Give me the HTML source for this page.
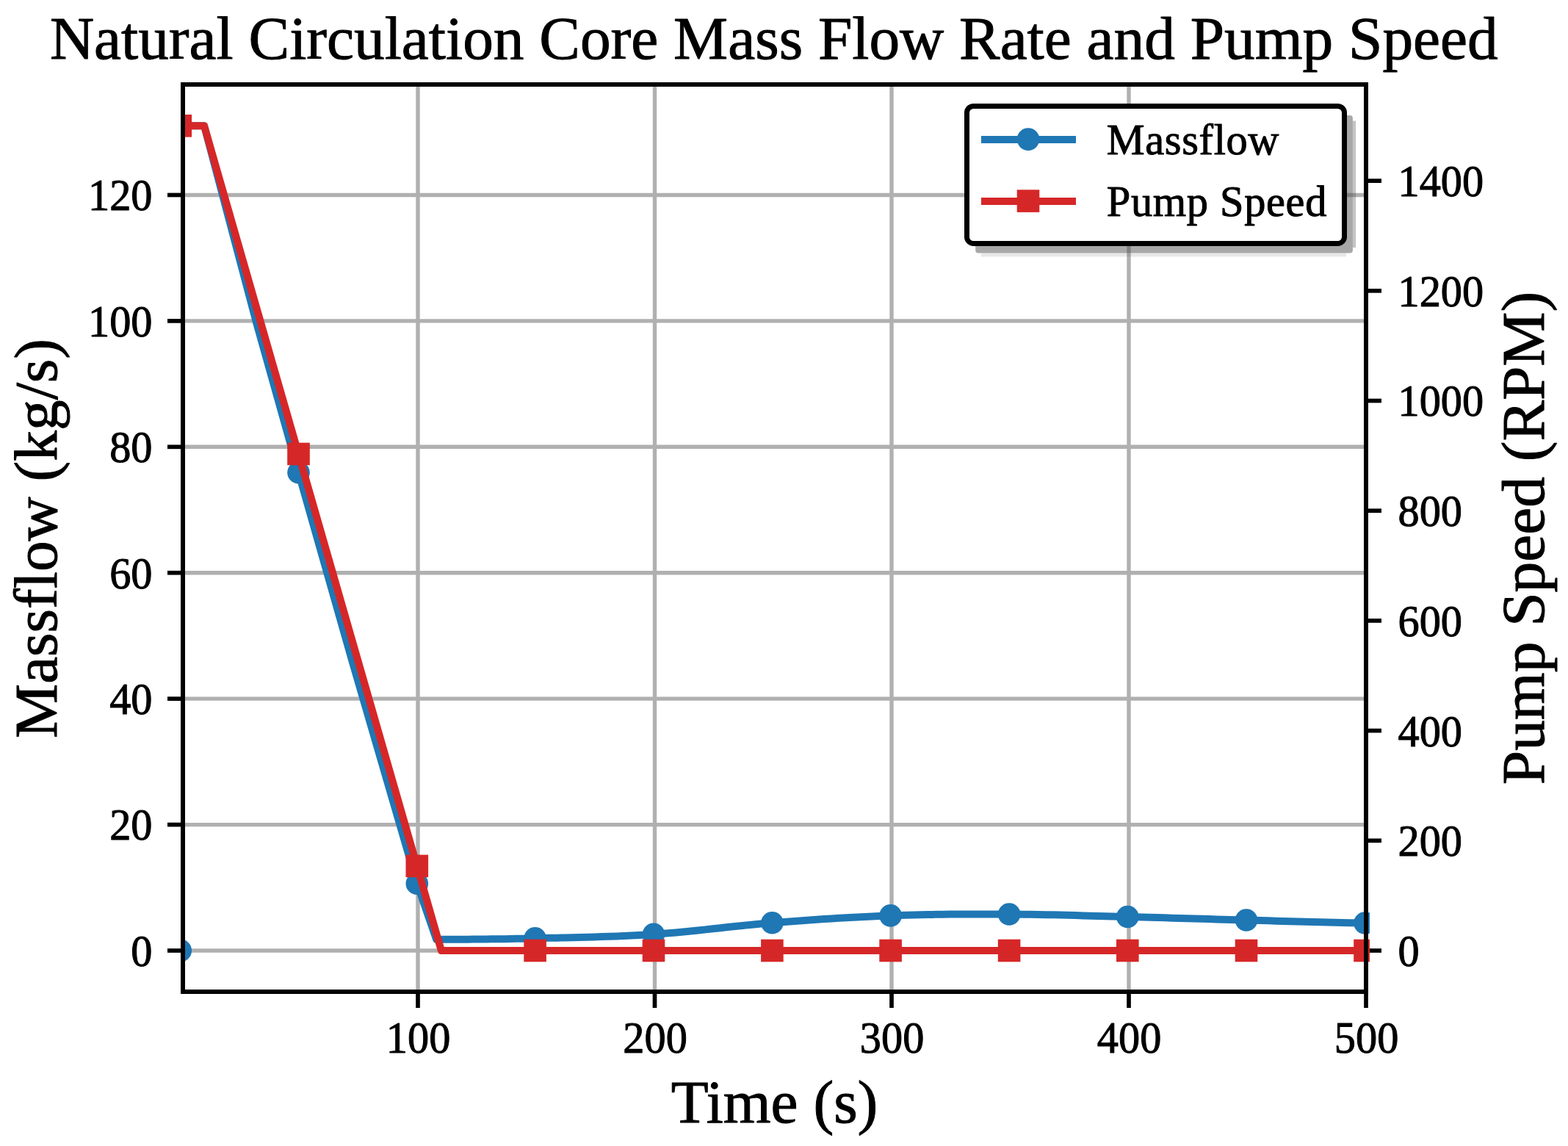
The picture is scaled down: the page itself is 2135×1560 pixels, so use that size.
<!DOCTYPE html>
<html lang="en">
<head>
<meta charset="utf-8">
<title>Natural Circulation Core Mass Flow Rate and Pump Speed</title>
<style>
html,body{margin:0;padding:0;background:#fff;}
body{width:2135px;height:1560px;overflow:hidden;}
svg{display:block;}
text{font-family:'Liberation Serif', 'DejaVu Serif', serif;fill:#000;stroke:#000;stroke-width:1px;stroke-linejoin:round;}
</style>
</head>
<body>
<svg width="2135" height="1560" viewBox="0 0 2135 1560">
<defs>
<clipPath id="axclip"><rect x="249" y="115" width="1611" height="1235"/></clipPath>
<clipPath id="mkclip"><rect x="249" y="110" width="1616" height="1245"/></clipPath>
</defs>
<rect x="0" y="0" width="2135" height="1560" fill="#ffffff"/>
<g stroke="#b0b0b0" stroke-width="5.4" fill="none">
<line x1="569" y1="115" x2="569" y2="1350"/>
<line x1="891.5" y1="115" x2="891.5" y2="1350"/>
<line x1="1214" y1="115" x2="1214" y2="1350"/>
<line x1="1537" y1="115" x2="1537" y2="1350"/>
<line x1="1860" y1="115" x2="1860" y2="1350"/>
<line x1="249" y1="1294" x2="1860" y2="1294"/>
<line x1="249" y1="1122.58" x2="1860" y2="1122.58"/>
<line x1="249" y1="951.16" x2="1860" y2="951.16"/>
<line x1="249" y1="779.73" x2="1860" y2="779.73"/>
<line x1="249" y1="608.31" x2="1860" y2="608.31"/>
<line x1="249" y1="436.89" x2="1860" y2="436.89"/>
<line x1="249" y1="265.47" x2="1860" y2="265.47"/>
</g>
<g stroke="#000" stroke-width="5.7" fill="none">
<line x1="569" y1="1350" x2="569" y2="1372"/>
<line x1="891.5" y1="1350" x2="891.5" y2="1372"/>
<line x1="1214" y1="1350" x2="1214" y2="1372"/>
<line x1="1537" y1="1350" x2="1537" y2="1372"/>
<line x1="1860" y1="1350" x2="1860" y2="1372"/>
<line x1="228" y1="1294" x2="249" y2="1294"/>
<line x1="228" y1="1122.58" x2="249" y2="1122.58"/>
<line x1="228" y1="951.16" x2="249" y2="951.16"/>
<line x1="228" y1="779.73" x2="249" y2="779.73"/>
<line x1="228" y1="608.31" x2="249" y2="608.31"/>
<line x1="228" y1="436.89" x2="249" y2="436.89"/>
<line x1="228" y1="265.47" x2="249" y2="265.47"/>
<line x1="1860" y1="1294" x2="1881" y2="1294"/>
<line x1="1860" y1="1144.3" x2="1881" y2="1144.3"/>
<line x1="1860" y1="994.61" x2="1881" y2="994.61"/>
<line x1="1860" y1="844.91" x2="1881" y2="844.91"/>
<line x1="1860" y1="695.22" x2="1881" y2="695.22"/>
<line x1="1860" y1="545.52" x2="1881" y2="545.52"/>
<line x1="1860" y1="395.82" x2="1881" y2="395.82"/>
<line x1="1860" y1="246.13" x2="1881" y2="246.13"/>
</g>
<g clip-path="url(#axclip)">
<polyline fill="none" stroke="#1f77b4" stroke-width="10" stroke-linejoin="round" points="246,171.19 278.05,171.19 349.3,440 406.5,643.3 479.5,900 567.8,1202.7 594.2,1278.9 602.6,1278.85 611,1278.8 619.4,1278.75 627.8,1278.7 636.2,1278.65 644.6,1278.59 653,1278.52 661.4,1278.44 669.8,1278.36 678.2,1278.26 686.6,1278.14 695,1278.01 703.4,1277.86 711.8,1277.7 720.2,1277.51 728.6,1277.3 738.69,1277.08 748.77,1276.87 758.86,1276.65 768.95,1276.44 779.04,1276.21 789.12,1275.97 799.21,1275.71 809.3,1275.42 819.39,1275.12 829.48,1274.77 839.56,1274.4 849.65,1273.98 859.74,1273.51 869.83,1273 879.91,1272.43 890,1271.8 900.09,1271.09 910.17,1270.29 920.26,1269.42 930.35,1268.47 940.44,1267.48 950.53,1266.43 960.61,1265.36 970.7,1264.27 980.79,1263.17 990.88,1262.07 1000.96,1260.99 1011.05,1259.93 1021.14,1258.91 1031.23,1257.94 1041.31,1257.03 1051.4,1256.2 1061.48,1255.41 1071.55,1254.64 1081.62,1253.89 1091.7,1253.16 1101.78,1252.44 1111.85,1251.75 1121.92,1251.09 1132,1250.44 1142.08,1249.83 1152.15,1249.24 1162.22,1248.68 1172.3,1248.16 1182.38,1247.67 1192.45,1247.21 1202.52,1246.78 1212.6,1246.4 1222.69,1246.05 1232.79,1245.75 1242.88,1245.48 1252.97,1245.24 1263.07,1245.04 1273.16,1244.87 1283.26,1244.73 1293.35,1244.62 1303.44,1244.53 1313.54,1244.47 1323.63,1244.43 1333.72,1244.41 1343.82,1244.41 1353.91,1244.43 1364.01,1244.46 1374.1,1244.5 1384.17,1244.57 1394.25,1244.67 1404.32,1244.81 1414.4,1244.97 1424.47,1245.16 1434.55,1245.37 1444.62,1245.6 1454.7,1245.85 1464.77,1246.11 1474.85,1246.38 1484.92,1246.65 1495,1246.93 1505.07,1247.2 1515.15,1247.48 1525.22,1247.74 1535.3,1248 1545.41,1248.25 1555.51,1248.52 1565.62,1248.79 1575.72,1249.07 1585.83,1249.35 1595.94,1249.64 1606.04,1249.93 1616.15,1250.22 1626.26,1250.51 1636.36,1250.81 1646.47,1251.1 1656.58,1251.39 1666.68,1251.67 1676.79,1251.95 1686.89,1252.23 1697,1252.5 1707.09,1252.77 1717.19,1253.05 1727.28,1253.34 1737.38,1253.63 1747.47,1253.92 1757.56,1254.21 1767.66,1254.49 1777.75,1254.77 1787.84,1255.05 1797.94,1255.31 1808.03,1255.55 1818.12,1255.79 1828.22,1256 1838.31,1256.19 1848.41,1256.36 1858.5,1256.5 1858.72,1256.61 1858.94,1256.7 1859.16,1256.76 1859.38,1256.8 1859.59,1256.82 1859.81,1256.83 1860.03,1256.82 1860.25,1256.8 1860.47,1256.77 1860.69,1256.74 1860.91,1256.71 1861.12,1256.67 1861.34,1256.64 1861.56,1256.62 1861.78,1256.6 1862,1256.6"/>
</g>
<g clip-path="url(#mkclip)" fill="#1f77b4">
<circle cx="245.77" cy="1294" r="15.3"/>
<circle cx="406.5" cy="643.3" r="15.3"/>
<circle cx="567.8" cy="1202.7" r="15.3"/>
<circle cx="728.6" cy="1277.3" r="15.3"/>
<circle cx="890" cy="1271.8" r="15.3"/>
<circle cx="1051.4" cy="1256.2" r="15.3"/>
<circle cx="1212.6" cy="1246.4" r="15.3"/>
<circle cx="1374.1" cy="1244.5" r="15.3"/>
<circle cx="1535.3" cy="1248" r="15.3"/>
<circle cx="1697" cy="1252.5" r="15.3"/>
<circle cx="1858.5" cy="1256.5" r="15.3"/>
</g>
<g clip-path="url(#axclip)">
<polyline fill="none" stroke="#d62728" stroke-width="10" stroke-linejoin="round" points="246,171.28 278.05,171.28 600.9,1294 1862,1294"/>
</g>
<g clip-path="url(#mkclip)" fill="#d62728">
<rect x="230.47" y="155.98" width="30.6" height="30.6"/>
<rect x="391.2" y="602.66" width="30.6" height="30.6"/>
<rect x="552.5" y="1163.59" width="30.6" height="30.6"/>
<rect x="713.3" y="1278.7" width="30.6" height="30.6"/>
<rect x="874.7" y="1278.7" width="30.6" height="30.6"/>
<rect x="1036.1" y="1278.7" width="30.6" height="30.6"/>
<rect x="1197.3" y="1278.7" width="30.6" height="30.6"/>
<rect x="1358.8" y="1278.7" width="30.6" height="30.6"/>
<rect x="1520" y="1278.7" width="30.6" height="30.6"/>
<rect x="1681.7" y="1278.7" width="30.6" height="30.6"/>
<rect x="1843.2" y="1278.7" width="30.6" height="30.6"/>
</g>
<rect x="249" y="115" width="1611" height="1235" fill="none" stroke="#000" stroke-width="6"/>
<g>
<rect x="1328.2" y="157.1" width="513.7" height="187.5" rx="4" ry="4" fill="#4d4d4d" fill-opacity="0.49"/>
<rect x="1841.9" y="164.5" width="4.2" height="172.5" fill="#4d4d4d" fill-opacity="0.33"/>
<rect x="1336" y="344.6" width="497" height="4.9" fill="#4d4d4d" fill-opacity="0.13"/>
<rect x="1316.5" y="144.4" width="514" height="187.1" rx="9" ry="9" fill="#fff" stroke="#000" stroke-width="7"/>
<line x1="1336" y1="190" x2="1465" y2="190" stroke="#1f77b4" stroke-width="10"/>
<circle cx="1400" cy="189.6" r="15.3" fill="#1f77b4"/>
<line x1="1336" y1="274" x2="1465" y2="274" stroke="#d62728" stroke-width="10"/>
<rect x="1384.7" y="258.3" width="30.6" height="30.6" fill="#d62728"/>
<text x="1506.8" y="210" font-size="58.33" letter-spacing="0.66">Massflow</text>
<text x="1506.8" y="294" font-size="58.33" letter-spacing="0.7">Pump Speed</text>
</g>
<g font-size="58.33">
<text transform="translate(569.6 1432.6) scale(1 1.05)" text-anchor="middle">100</text>
<text transform="translate(892.1 1432.6) scale(1 1.05)" text-anchor="middle">200</text>
<text transform="translate(1214.6 1432.6) scale(1 1.05)" text-anchor="middle">300</text>
<text transform="translate(1537.6 1432.6) scale(1 1.05)" text-anchor="middle">400</text>
<text transform="translate(1860.6 1432.6) scale(1 1.05)" text-anchor="middle">500</text>
<text transform="translate(207.5 1314.9) scale(1 1.05)" text-anchor="end">0</text>
<text transform="translate(207.5 1143.48) scale(1 1.05)" text-anchor="end">20</text>
<text transform="translate(207.5 972.06) scale(1 1.05)" text-anchor="end">40</text>
<text transform="translate(207.5 800.63) scale(1 1.05)" text-anchor="end">60</text>
<text transform="translate(207.5 629.21) scale(1 1.05)" text-anchor="end">80</text>
<text transform="translate(207.5 457.79) scale(1 1.05)" text-anchor="end">100</text>
<text transform="translate(207.5 286.37) scale(1 1.05)" text-anchor="end">120</text>
<text transform="translate(1903.5 1314.9) scale(1 1.05)" text-anchor="start">0</text>
<text transform="translate(1903.5 1165.2) scale(1 1.05)" text-anchor="start">200</text>
<text transform="translate(1903.5 1015.51) scale(1 1.05)" text-anchor="start">400</text>
<text transform="translate(1903.5 865.81) scale(1 1.05)" text-anchor="start">600</text>
<text transform="translate(1903.5 716.12) scale(1 1.05)" text-anchor="start">800</text>
<text transform="translate(1903.5 566.42) scale(1 1.05)" text-anchor="start">1000</text>
<text transform="translate(1903.5 416.72) scale(1 1.05)" text-anchor="start">1200</text>
<text transform="translate(1903.5 267.03) scale(1 1.05)" text-anchor="start">1400</text>
</g>
<text x="1053.8" y="80.2" font-size="83.33" text-anchor="middle">Natural Circulation Core Mass Flow Rate and Pump Speed</text>
<text x="1054.5" y="1528" font-size="83.33" text-anchor="middle">Time (s)</text>
<text transform="translate(77 733) rotate(-90)" font-size="83.33" text-anchor="middle">Massflow (kg/s)</text>
<text transform="translate(2102.4 732.5) rotate(-90)" font-size="83.33" text-anchor="middle">Pump Speed (RPM)</text>
</svg>
</body>
</html>
